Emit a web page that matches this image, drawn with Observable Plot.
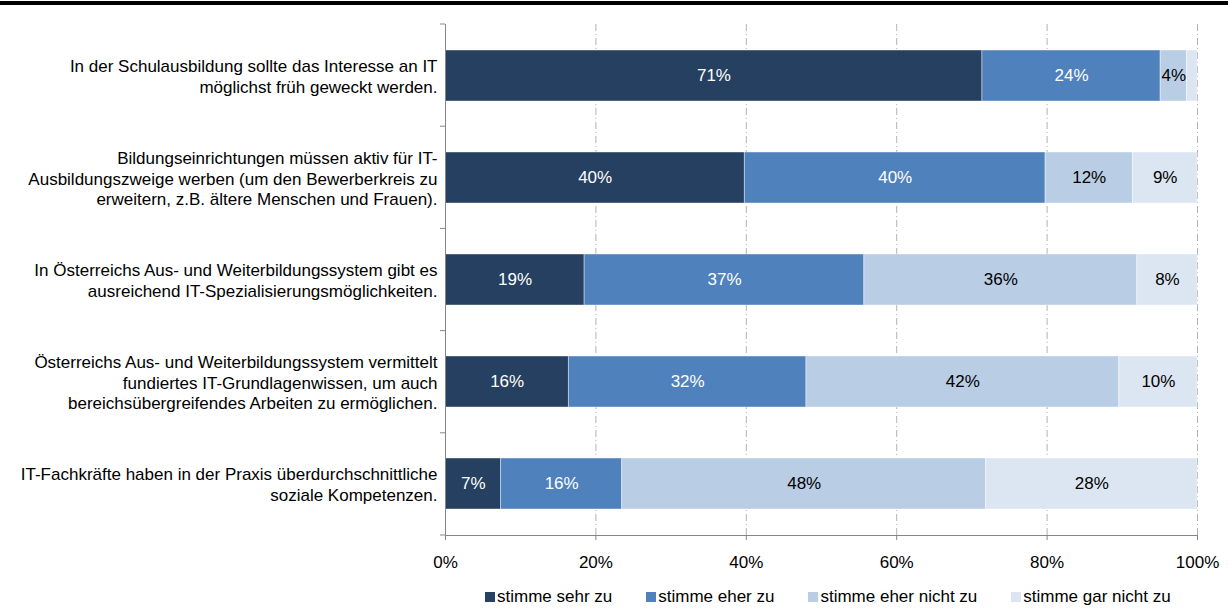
<!DOCTYPE html>
<html>
<head>
<meta charset="utf-8">
<script src="https://cdn.jsdelivr.net/npm/d3@7"></script>
<script src="https://cdn.jsdelivr.net/npm/@observablehq/plot@0.6"></script>
<style>
  html, body { margin: 0; padding: 0; background: #fff; }
  body { width: 1228px; height: 608px; position: relative; overflow: hidden; font-family: "Liberation Sans", Arial, sans-serif; }
  #topline { position: absolute; left: 0; top: 1px; width: 1228px; height: 4px; background: #000; }
  #legend { position: absolute; top: 587px; left: 485px; display: flex; gap: 34px; font-size: 17px; line-height: 20px; color: #000; white-space: nowrap; }
  #legend .item { display: flex; align-items: center; }
  #legend .sw { width: 10px; height: 10px; margin-right: 2px; }
</style>
</head>
<body>
<div id="chart"></div>
<div id="topline"></div>
<div id="legend"></div>
<script>
const categories = [
  "In der Schulausbildung sollte das Interesse an IT\nmöglichst früh geweckt werden.",
  "Bildungseinrichtungen müssen aktiv für IT-\nAusbildungszweige werben (um den Bewerberkreis zu\nerweitern, z.B. ältere Menschen und Frauen).",
  "In Österreichs Aus- und Weiterbildungssystem gibt es\nausreichend IT-Spezialisierungsmöglichkeiten.",
  "Österreichs Aus- und Weiterbildungssystem vermittelt\nfundiertes IT-Grundlagenwissen, um auch\nbereichsübergreifendes Arbeiten zu ermöglichen.",
  "IT-Fachkräfte haben in der Praxis überdurchschnittliche\nsoziale Kompetenzen."
];
const seriesNames = ["stimme sehr zu", "stimme eher zu", "stimme eher nicht zu", "stimme gar nicht zu"];
const sehrZu      = [71.4, 39.8, 18.5, 16.4, 7.4];
const eherZu      = [23.7, 40.0, 37.2, 31.6, 16.1];
const eherNichtZu = [3.5, 11.6, 36.3, 41.6, 48.4];
const garNichtZu  = [1.4, 8.6, 8.0, 10.4, 28.1];
const xTicks = [0, 20, 40, 60, 80, 100];
const colors = ["#254061", "#4f81bd", "#b9cde5", "#dce6f2"];

const seriesValues = [sehrZu, eherZu, eherNichtZu, garNichtZu];
const data = [];
categories.forEach((c, i) => {
  seriesNames.forEach((s, j) => {
    data.push({category: c, series: s, si: j, value: seriesValues[j][i]});
  });
});

const label = d => d.value < 2 ? "" : Math.round(d.value) + "%";

function yBoundaryTicks(index, scales, values, dims) {
  const g = d3.create("svg:g");
  const {marginTop, marginBottom, marginLeft, height} = dims;
  const n = categories.length;
  const step = (height - marginTop - marginBottom) / n;
  for (let i = 0; i <= n; i++) {
    const y = marginTop + i * step;
    g.append("line")
      .attr("x1", marginLeft - 5).attr("x2", marginLeft)
      .attr("y1", y).attr("y2", y)
      .attr("stroke", "#868686").attr("stroke-width", 1);
  }
  return g.node();
}

const chart = Plot.plot({
  width: 1228,
  height: 580,
  marginLeft: 445,
  marginRight: 31,
  marginTop: 24,
  marginBottom: 45,
  style: {fontFamily: "'Liberation Sans', Arial, sans-serif", fontSize: "17px", background: "#fff", color: "#000"},
  x: {domain: [0, 100], label: null},
  y: {type: "band", domain: categories, paddingInner: 0.5, paddingOuter: 0.25, label: null},
  color: {domain: seriesNames, range: colors},
  marks: [
    Plot.ruleX(xTicks.filter(d => d > 0), {stroke: "#b3b3b3", strokeWidth: 1, strokeDasharray: "7,3,1,3"}),
    Plot.barX(data, Plot.stackX({x: "value", y: "category", z: "series", fill: "series", stroke: "#ffffff", strokeWidth: 0.75, strokeOpacity: 0.55})),
    Plot.text(data, Plot.stackX({x: "value", y: "category", z: "series", text: d => d.si < 2 ? label(d) : "", fill: "#ffffff", fontSize: 17})),
    Plot.text(data, Plot.stackX({x: "value", y: "category", z: "series", text: d => d.si >= 2 ? label(d) : "", fill: "#000000", fontSize: 17})),
    Plot.ruleX([0], {stroke: "#868686", strokeWidth: 1}),
    Plot.frame({anchor: "bottom", stroke: "#868686", strokeWidth: 1}),
    Plot.axisX({ticks: xTicks, tickFormat: d => d + "%", tickSize: 5, tickPadding: 15, stroke: "#868686", fill: "#000", fontSize: 17, label: null}),
    Plot.axisY({tickSize: 0, tickPadding: 8, lineHeight: 1.2, fill: "#000", fontSize: 17, textAnchor: "end", label: null}),
    yBoundaryTicks
  ]
});
document.getElementById("chart").appendChild(chart);

const legend = document.getElementById("legend");
seriesNames.forEach((s, j) => {
  const item = document.createElement("div");
  item.className = "item";
  const sw = document.createElement("span");
  sw.className = "sw";
  sw.style.background = colors[j];
  const t = document.createElement("span");
  t.textContent = s;
  item.appendChild(sw);
  item.appendChild(t);
  legend.appendChild(item);
});
</script>
</body>
</html>
